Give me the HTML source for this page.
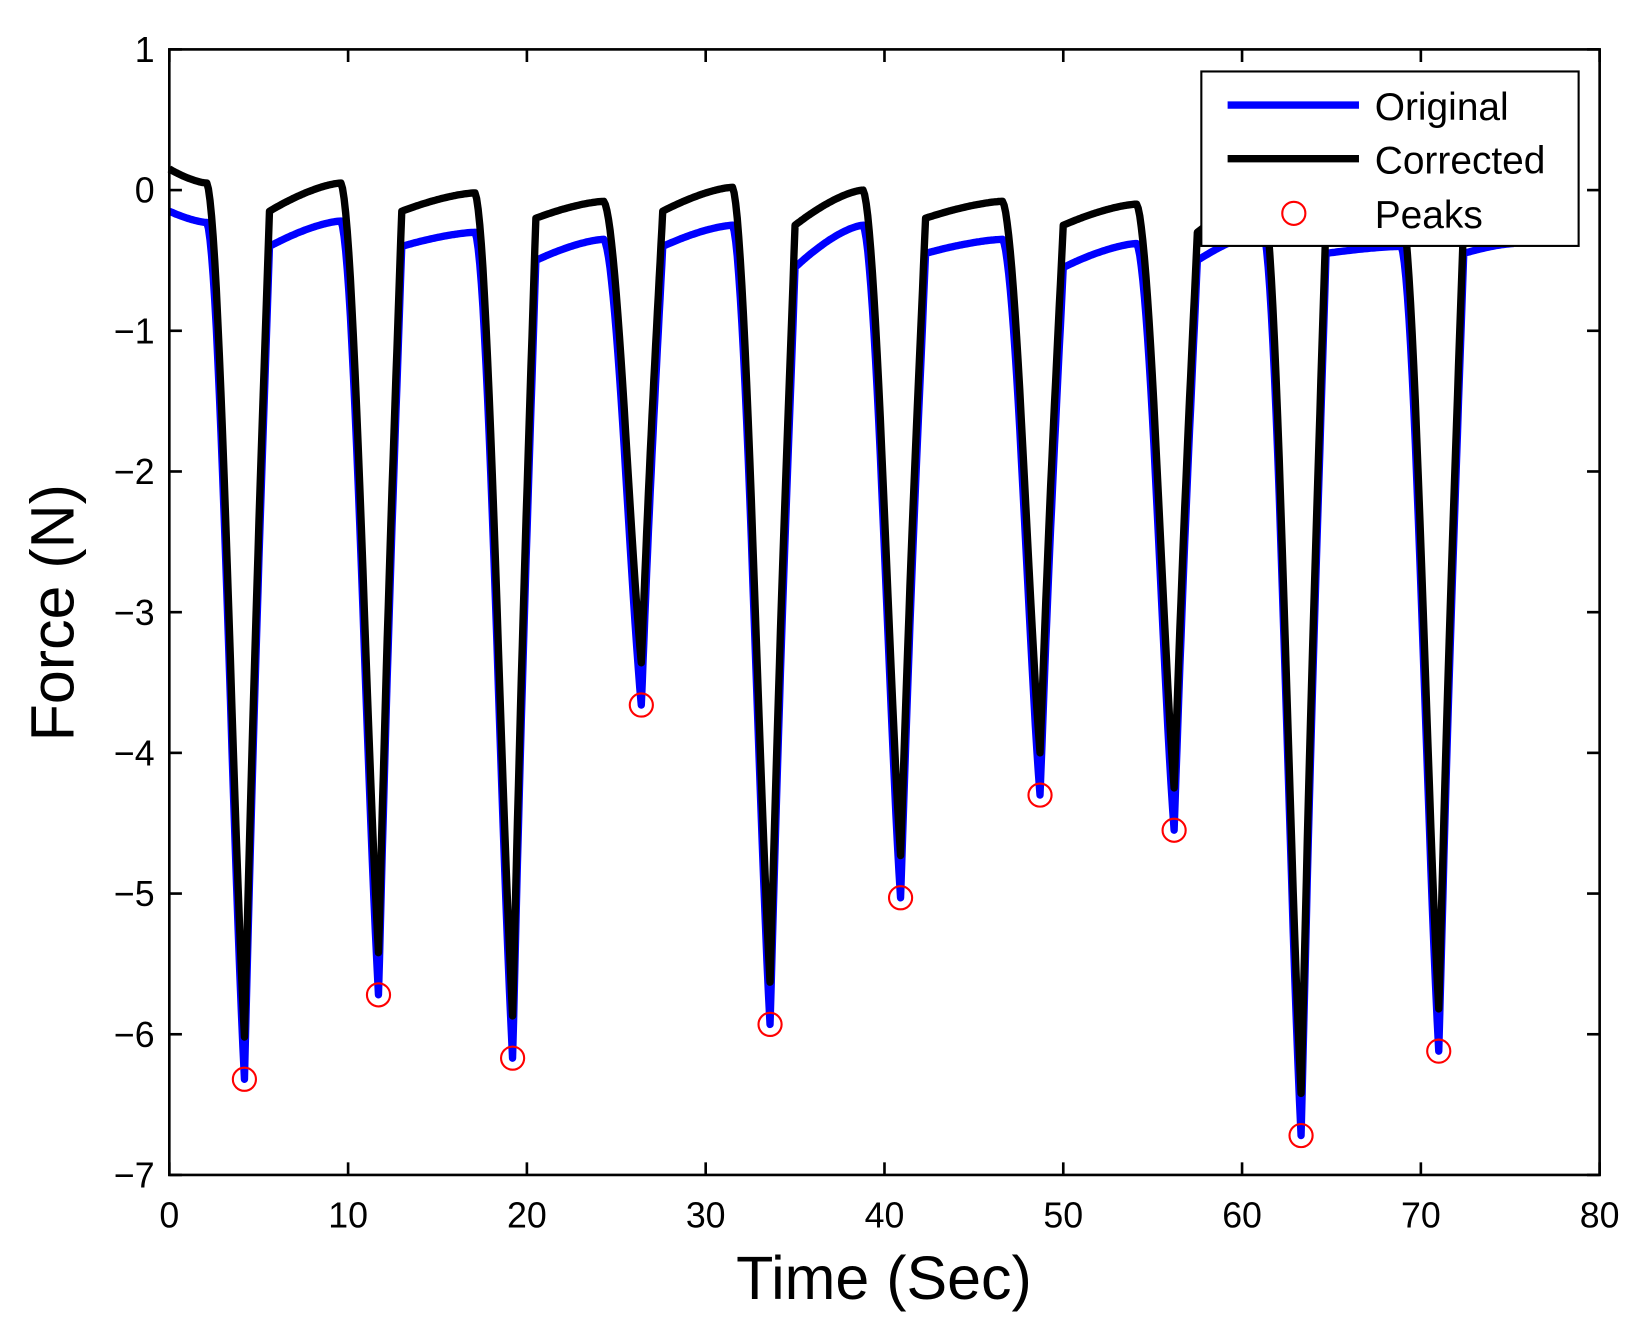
<!DOCTYPE html>
<html><head><meta charset="utf-8"><style>html,body{margin:0;padding:0;background:#fff}svg{display:block}</style></head>
<body>
<svg id="s" width="1646" height="1341" viewBox="0 0 1566 1276" xmlns="http://www.w3.org/2000/svg" font-family="'Liberation Sans', sans-serif">
<rect width="1566" height="1276" fill="#fff"/>
<g id="plot"></g>
<rect x="161" y="47" width="1361" height="1071" fill="none" stroke="#000" stroke-width="2.5"/>
<g id="ticks" stroke="#000" stroke-width="2.5"></g>
<g id="labels" font-size="34" fill="#000"></g>
<text x="841" y="1236" font-size="58" text-anchor="middle">Time (Sec)</text>
<text transform="translate(70,583) rotate(-90)" font-size="58" text-anchor="middle">Force (N)</text>
<g>
<rect x="1143" y="68" width="359" height="166" fill="#fff" stroke="#000" stroke-width="2"/>
<line x1="1168" y1="100" x2="1293" y2="100" stroke="#0000ff" stroke-width="7"/>
<line x1="1168" y1="151" x2="1293" y2="151" stroke="#000" stroke-width="7"/>
<circle cx="1231" cy="203" r="11" fill="none" stroke="#ff0000" stroke-width="2"/>
<text x="1308" y="114" font-size="37">Original</text>
<text x="1308" y="165" font-size="37">Corrected</text>
<text x="1308" y="217" font-size="37">Peaks</text>
</g>
</svg>
<script>
const X=t=>161+t*1361/80, Y=v=>47+(1-v)*1071/8;
const peaks=[[4.2,-6.32],[11.7,-5.72],[19.2,-6.17],[26.4,-3.66],[33.6,-5.93],[40.9,-5.03],[48.7,-4.3],[56.2,-4.55],[63.3,-6.72],[71.0,-6.12]];
const plats=[[0,0.15,0.05,-0.15,-0.23],[5.6,-0.15,0.05,-0.4,-0.22],[13.0,-0.15,-0.02,-0.4,-0.3],[20.5,-0.2,-0.08,-0.5,-0.35],[27.6,-0.15,0.02,-0.4,-0.25],[35.0,-0.25,0.0,-0.55,-0.25],[42.3,-0.2,-0.08,-0.45,-0.35],[50.0,-0.25,-0.1,-0.55,-0.38],[57.5,-0.3,-0.05,-0.5,-0.3],[64.7,-0.2,-0.1,-0.45,-0.4],[72.4,-0.2,-0.1,-0.45,-0.38]];
function build(blue){
 let pts=[];
 for(let i=0;i<plats.length;i++){
  const s=plats[i][0], b0=plats[i][1], b1=plats[i][2], u0=plats[i][3], u1=plats[i][4];
  const a=blue?u0:b0, e=blue?u1:b1;
  const end = i<peaks.length ? peaks[i][0]-2.1 : 75.2;
  const start = i==0?0:s;
  const n=Math.max(1,Math.round((end-start)/0.1));
  for(let k=0;k<=n;k++){
    const u=k/n; const t=start+(end-start)*u;
    const v=a+(e-a)*(1-Math.pow(Math.max(0,1-u),1.5));
    pts.push([t,v]);
  }
  if(i<peaks.length){
    const pt=peaks[i][0], pv=peaks[i][1];
    const pk=blue?pv:pv+0.3;
    for(let k=1;k<=24;k++){const u=k/24;const f=0.5*Math.pow(u,1.4)+0.5*u*u*(3-2*u)*Math.pow(u,0.3);pts.push([end+2.1*u,e+(pk-e)*f]);}
    const ns=plats[i+1], na=blue?ns[3]:ns[1], rt=ns[0];
    for(let k=1;k<=24;k++){const u=k/24;const g=0.7*Math.pow(u,1.3)+0.3*(1-Math.pow(1-u,3));pts.push([pt+(rt-pt)*u,pk+(na-pk)*g]);}
  }
 }
 return 'M'+pts.filter(p=>isFinite(p[0])&&isFinite(p[1])).map(p=>X(p[0]).toFixed(1)+','+Y(p[1]).toFixed(1)).join('L');
}
let h='';
h+=`<path d="${build(true)}" fill="none" stroke="#0000ff" stroke-width="7" stroke-linejoin="round"/>`;
h+=`<path d="${build(false)}" fill="none" stroke="#000" stroke-width="7" stroke-linejoin="round"/>`;
for(const p of peaks) h+=`<circle cx="${X(p[0])}" cy="${Y(p[1])}" r="11" fill="none" stroke="#ff0000" stroke-width="2"/>`;
document.getElementById('plot').innerHTML=h;
let tk='',lb='';
for(let t=0;t<=80;t+=10){const x=X(t);tk+=`<line x1="${x}" y1="1118" x2="${x}" y2="1106"/><line x1="${x}" y1="47" x2="${x}" y2="59"/>`;lb+=`<text x="${x}" y="1168" text-anchor="middle">${t}</text>`;}
for(let v=-7;v<=1;v++){const y=Y(v);tk+=`<line x1="161" y1="${y}" x2="173" y2="${y}"/><line x1="1522" y1="${y}" x2="1510" y2="${y}"/>`;lb+=`<text x="147" y="${y+12}" text-anchor="end">${v<0?'\u2212'+(-v):v}</text>`;}
document.getElementById('ticks').innerHTML=tk;
document.getElementById('labels').innerHTML=lb;
</script>
</body></html>
